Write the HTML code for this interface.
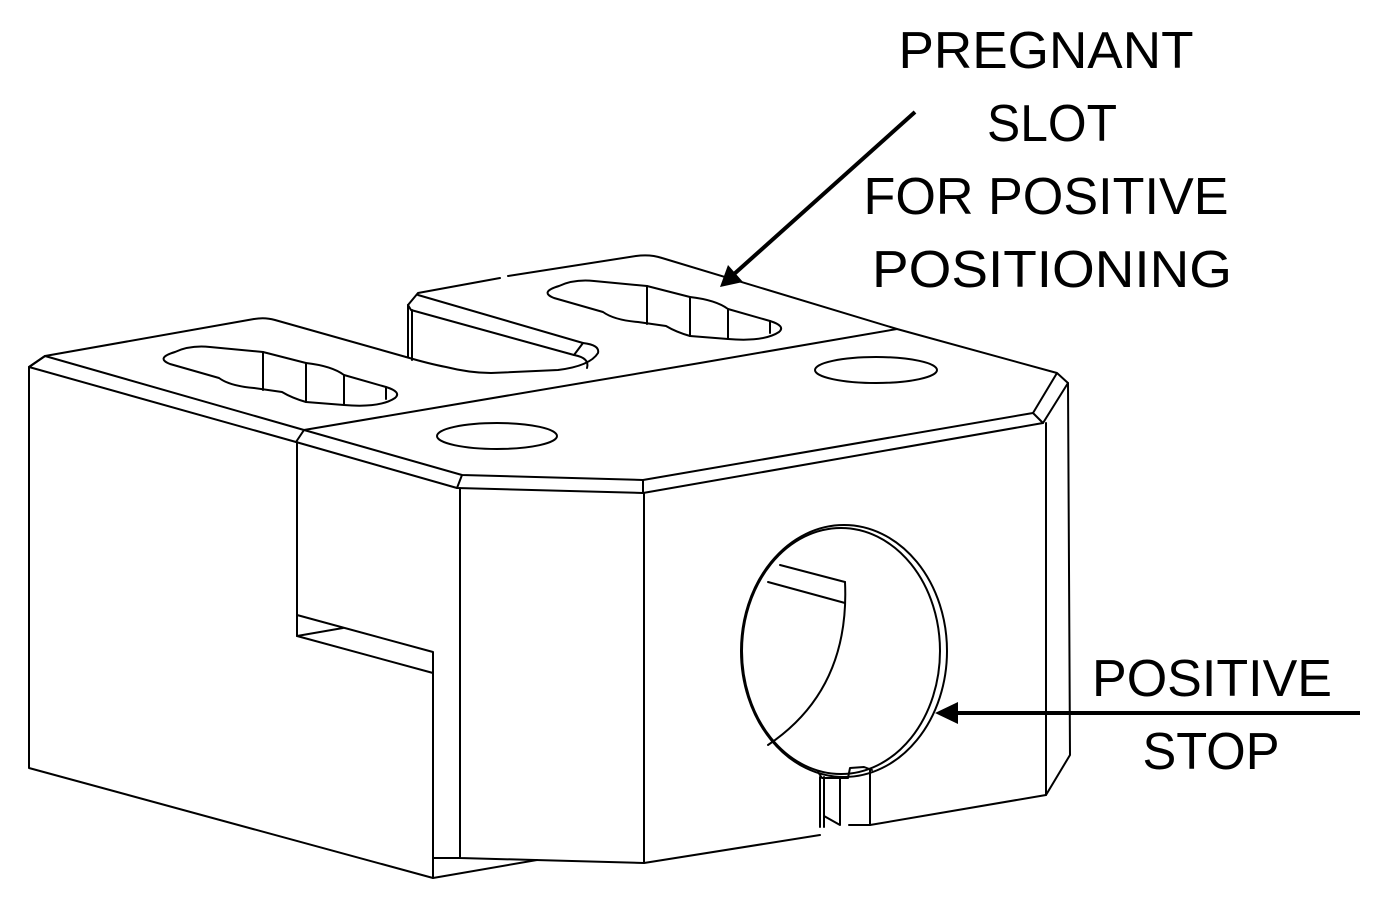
<!DOCTYPE html>
<html><head><meta charset="utf-8"><style>
html,body{margin:0;padding:0;background:#fff;}
svg{display:block}
text{font-family:"Liberation Sans",sans-serif;font-size:52px;fill:#000;text-anchor:middle}
</style></head><body>
<svg width="1399" height="910" viewBox="0 0 1399 910" xmlns="http://www.w3.org/2000/svg">
<g fill="none" stroke="#000" stroke-width="2" stroke-linejoin="round" stroke-linecap="round">
<!-- left block -->
<path d="M29,367 L45,356 L254,319 Q265,317 275,320 L406,357"/>
<path d="M45,356 L304,430 L296,442 L29,367 Z"/>
<path d="M29,367 L29,768 L433,878 L537,860"/>
<path d="M297,442 L297,615 L433,652 L433,878"/>
<path d="M297,636 L433,673"/>
<path d="M297,636 L343,628"/>
<path d="M297,615 L297,636"/>
<!-- front chamfer face -->
<path d="M304,430 L462,475 L643,480 L1033,413"/>
<path d="M296,442 L457,488 L643,493 L1043,423"/>
<path d="M462,475 L457,488 M643,480 L643,493"/>
<path d="M460,488 L460,858 L644,863 L820,835"/>
<path d="M644,493 L644,863"/>
<path d="M433,858 L460,858"/>
<!-- center line -->
<path d="M304,430 L700,363 L897,329"/>
<!-- raised back part -->
<path d="M408,305 L418,293 L500,278 M508,276 L636,256 Q650,254 662,258 L897,329 L1057,373 L1068,383 L1043,423 L1033,413 L1057,373"/>
<path d="M418,295 L583,343 L574,355 L411,310 L408,305"/>
<path d="M408,305 L408,357 M412,310 L412,360"/>
<path d="M406,357 Q430,364 446,367 Q470,373 491,373 L558,370 Q590,366 598,353 Q600,345 583,343"/>
<path d="M574,355 Q590,358 587,368"/>
<!-- right face -->
<path d="M1068,383 L1070,755 L1046,795 L870,825 L849,825"/>
<path d="M1046,423 L1046,795"/>
<!-- holes -->
<ellipse cx="497" cy="436" rx="60" ry="13"/>
<ellipse cx="876" cy="370" rx="61" ry="13"/>
<!-- left slot -->
<g id="slot">
<path d="M175,352 Q190,345 210,347 L263,352 L306,363 Q332,366 344,375 L386,387 Q402,392 395,398 Q380,408 344,405 L306,402 Q292,398 282,392 L254,388 Q230,386 219,378 L170,364 Q155,358 175,352 Z"/>
<path d="M263,352 L263,390 M306,363 L306,402 M344,375 L344,405 M386,387 L386,399"/>
</g>
<use href="#slot" transform="translate(384,-66)"/>
<!-- bore -->
<ellipse cx="844" cy="651" rx="103" ry="126"/>
<ellipse cx="841" cy="651" rx="99" ry="123"/>
<path d="M780,565 L845,582 M768,582 L845,603"/>
<path d="M845,582 Q850,690 768,745"/>
<path d="M818,772 L822,778 L848,778 L850,768 L864,767 L872,770"/>
<path d="M820,777 L820,827 M824,777 L824,827 M840,778 L840,825 M870,770 L870,825 M824,816 L840,825"/>
</g>
<!-- arrows -->
<g stroke="#000" stroke-width="4" fill="#000">
<line x1="915" y1="112" x2="733" y2="275"/>
<line x1="1360" y1="713" x2="955" y2="713"/>
</g>
<polygon points="720,287 728,265 743,282" fill="#000"/>
<polygon points="935,713 958,702 958,724" fill="#000"/>
<text x="1046" y="68" textLength="295" lengthAdjust="spacingAndGlyphs">PREGNANT</text>
<text x="1052" y="141" textLength="130" lengthAdjust="spacingAndGlyphs">SLOT</text>
<text x="1046" y="214" textLength="365" lengthAdjust="spacingAndGlyphs">FOR POSITIVE</text>
<text x="1052" y="287" textLength="360" lengthAdjust="spacingAndGlyphs">POSITIONING</text>
<text x="1212" y="696" textLength="240" lengthAdjust="spacingAndGlyphs">POSITIVE</text>
<text x="1211" y="769" textLength="137" lengthAdjust="spacingAndGlyphs">STOP</text>
</svg>
</body></html>
